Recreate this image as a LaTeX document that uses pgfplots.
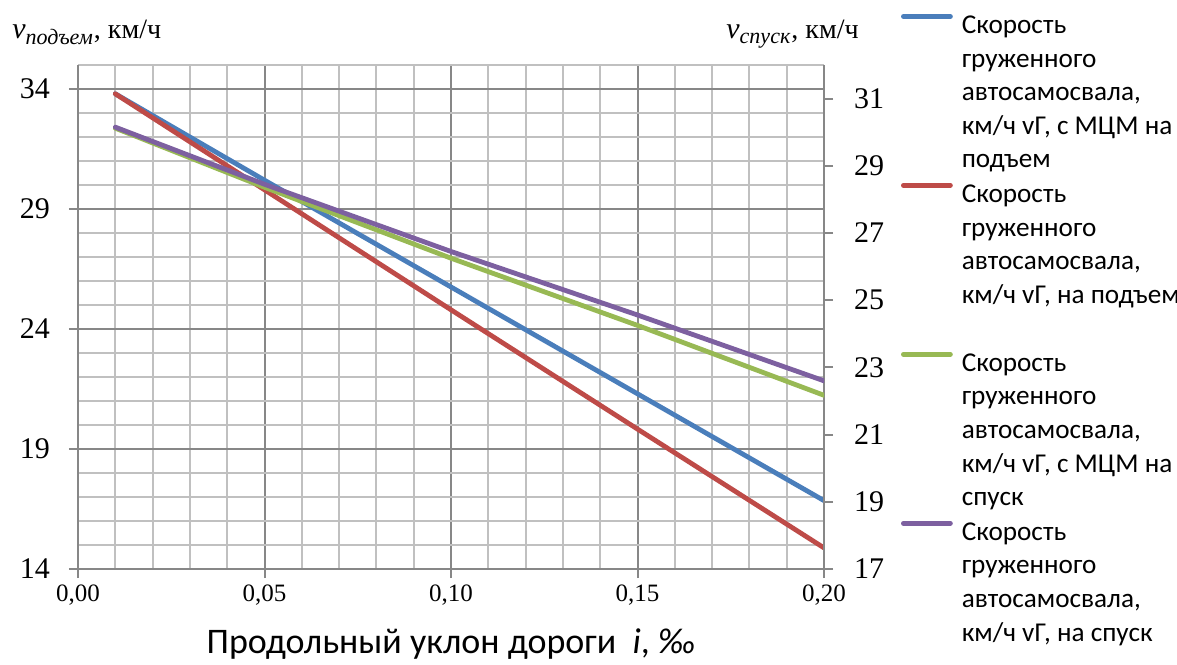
\documentclass[border=0pt]{standalone}
\usepackage{fontspec}
\setmainfont{Liberation Serif}
\newfontfamily\calibri{Carlito}
\usepackage{pgfplots}
\pgfplotsset{compat=1.18}

\definecolor{cblue}{HTML}{4A7EBB}
\definecolor{cred}{HTML}{BE4B48}
\definecolor{cgreen}{HTML}{98B954}
\definecolor{cpurple}{HTML}{7D60A0}
\definecolor{gmaj}{HTML}{878787}
\definecolor{gmin}{HTML}{C0C0C0}

\pgfplotsset{
  common/.style={
    width=373pt, height=252pt, scale only axis,
    at={(0pt,0pt)}, anchor=south west,
    xmin=0, xmax=0.2,
    axis line style={-, draw=gmaj, line width=1pt},
    tick align=outside, major tick length=4.5pt, minor tick length=0pt,
    tick style={draw=gmaj, line width=1pt},
    /pgf/number format/assume math mode=true,
  },
}

\begin{document}
\begin{tikzpicture}
\useasboundingbox (-39pt,-47.5pt) rectangle (549.5pt,284.5pt);

% left axis: na podjem
\begin{axis}[common,
  ymin=14, ymax=35,
  axis x line*=bottom, axis y line*=left,
  xtick={0,0.05,0.1,0.15,0.2},
  minor xtick={0,0.01,...,0.2},
  ytick={14,19,24,29,34},
  minor ytick={14,15,...,35},
  grid=both,
  major grid style={draw=gmaj, line width=1pt},
  minor grid style={draw=gmin, line width=1pt},
  yticklabel style={font=\fontsize{15}{18}\selectfont, xshift=-6pt},
  xticklabel style={font=\fontsize{12.5}{15}\selectfont,
    /pgf/number format/.cd, fixed, fixed zerofill, precision=2, use comma},
]
\addplot[cblue, line width=2.4pt, line cap=round] coordinates {
  (0.01,33.80) (0.05,30.20) (0.10,25.75) (0.15,21.30) (0.20,16.85)};
\addplot[cred, line width=2.4pt, line cap=round] coordinates {
  (0.01,33.80) (0.05,29.80) (0.10,24.80) (0.15,19.83) (0.20,14.88)};
\end{axis}

% right axis: na spusk
\begin{axis}[common,
  ymin=17, ymax=32,
  axis x line=none, axis y line*=right,
  ytick={17,19,...,31},
  yticklabel style={font=\fontsize{15}{18}\selectfont, xshift=7pt},
  legend style={at={(1,1)}, anchor=north west, xshift=38.5pt, yshift=29.5pt,
    draw=none, fill=none, inner sep=0pt, outer sep=0pt,
    row sep=0pt, column sep=2.5pt,
    font=\calibri\fontsize{13.6}{16.8}\selectfont,
    cells={align=left, inner sep=0pt}},
  legend cell align=left,
  legend image code/.code={\draw[#1, line cap=round] (0pt,37pt) -- (23.5pt,37pt);},
]
\addlegendimage{cblue, line width=2.4pt}
\addlegendentry{\strut Скорость\\\strut груженного\\\strut автосамосвала,\\\strut км/ч vГ, с МЦМ на\\\strut подъем}
\addlegendimage{cred, line width=2.4pt}
\addlegendentry{\strut Скорость\\\strut груженного\\\strut автосамосвала,\\\strut км/ч vГ, на подъем\\\strut}
\addplot[cgreen, line width=2.4pt, line cap=round] coordinates {
  (0.01,30.12) (0.05,28.36) (0.10,26.25) (0.15,24.25) (0.20,22.17)};
\addlegendentry{\strut Скорость\\\strut груженного\\\strut автосамосвала,\\\strut км/ч vГ, с МЦМ на\\\strut спуск}
\addplot[cpurple, line width=2.4pt, line cap=round] coordinates {
  (0.01,30.15) (0.05,28.45) (0.10,26.45) (0.15,24.56) (0.20,22.60)};
\addlegendentry{\strut Скорость\\\strut груженного\\\strut автосамосвала,\\\strut км/ч vГ, на спуск\\\strut}
\end{axis}

\node[anchor=base west, inner sep=0pt] at (-33pt,265pt)
  {\fontsize{15}{18}\selectfont\textit{v}\textsubscript{\fontsize{11}{13}\selectfont\textit{подъем}}\fontsize{14}{16}\selectfont, км/ч};
\node[anchor=base west, inner sep=0pt] at (324pt,265pt)
  {\fontsize{15}{18}\selectfont\textit{v}\textsubscript{\fontsize{11}{13}\selectfont\textit{спуск}}\fontsize{14}{16}\selectfont, км/ч};
\node[anchor=base, inner sep=0pt] at (186.5pt,-42pt)
  {\calibri\fontsize{18}{21}\selectfont Продольный уклон дороги\ \ \textit{i}, \textit{‰}};
\end{tikzpicture}
\end{document}
